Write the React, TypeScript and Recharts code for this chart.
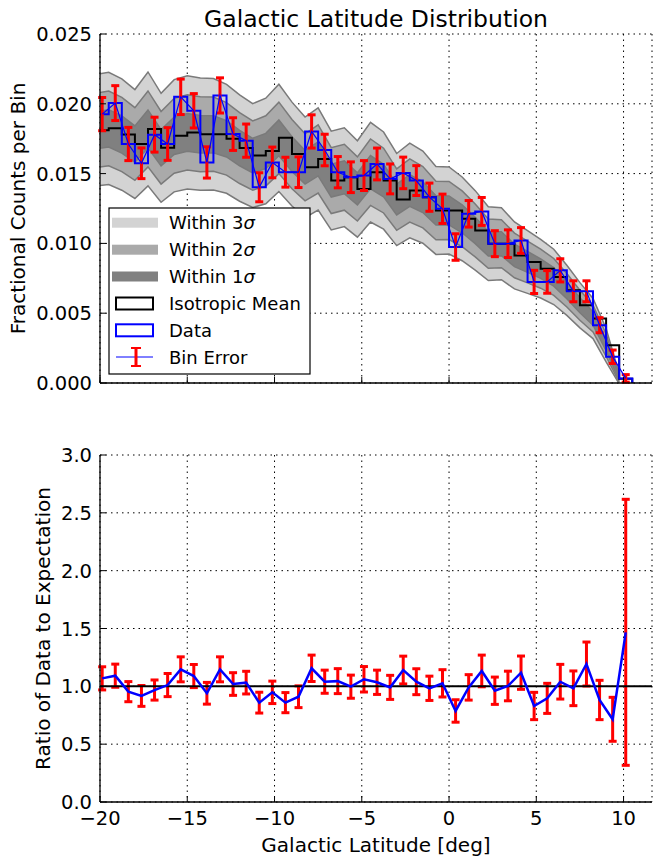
import React from 'react';
import { ComposedChart, Line, Area, XAxis, YAxis, CartesianGrid, ErrorBar, ReferenceLine } from 'recharts';

// bin centres in galactic latitude (deg), 0.75 deg wide bins
const binCenters = [
  -19.875, -19.125, -18.375, -17.625, -16.875, -16.125, -15.375, -14.625, -13.875, -13.125,
  -12.375, -11.625, -10.875, -10.125, -9.375, -8.625, -7.875, -7.125, -6.375, -5.625,
  -4.875, -4.125, -3.375, -2.625, -1.875, -1.125, -0.375, 0.375, 1.125, 1.875,
  2.625, 3.375, 4.125, 4.875, 5.625, 6.375, 7.125, 7.875, 8.625, 9.375, 10.125,
];
const BIN_WIDTH = 0.75;

const isoMean = [
  0.0181, 0.01824, 0.0178, 0.01712, 0.0182, 0.01685, 0.01771, 0.01795, 0.01782, 0.01782,
  0.01749, 0.01683, 0.01629, 0.01662, 0.01756, 0.0164, 0.01545, 0.01605, 0.0145, 0.01474,
  0.0139, 0.0151, 0.0145, 0.01314, 0.01379, 0.01331, 0.01236, 0.01236, 0.01176, 0.01093,
  0.00998, 0.00998, 0.00914, 0.00867, 0.00819, 0.0076, 0.00664, 0.00557, 0.00462, 0.00271, 0.0003,
];
const isoSigma = [
  0.00133, 0.00134, 0.00133, 0.0013, 0.00136, 0.0013, 0.00134, 0.00135, 0.00134, 0.00133,
  0.0013, 0.00127, 0.00124, 0.00126, 0.00128, 0.00124, 0.0012, 0.00122, 0.00118, 0.00118,
  0.00115, 0.00119, 0.00116, 0.0011, 0.00113, 0.0011, 0.00105, 0.00104, 0.001, 0.00095,
  0.00088, 0.00086, 0.0008, 0.00075, 0.0007, 0.00066, 0.0006, 0.00054, 0.00048, 0.0004, 0.00012,
];
const dataFrac = [
  0.01926, 0.02005, 0.01712, 0.01574, 0.01779, 0.01712, 0.0205, 0.0195, 0.0158, 0.0206,
  0.01783, 0.01736, 0.01402, 0.0158, 0.0151, 0.0151, 0.01802, 0.01669, 0.0151, 0.01474,
  0.01486, 0.01569, 0.01462, 0.01505, 0.0145, 0.01331, 0.01248, 0.00974, 0.01212, 0.01229,
  0.00998, 0.00998, 0.01021, 0.00724, 0.00724, 0.00807, 0.00657, 0.00657, 0.00414, 0.00188, 0.00033,
];
const dataErr = [
  0.00119, 0.00125, 0.00119, 0.0011, 0.00125, 0.00117, 0.00127, 0.00123, 0.00112, 0.00126,
  0.00117, 0.00119, 0.00104, 0.0011, 0.00107, 0.0011, 0.00119, 0.00113, 0.00112, 0.0011,
  0.00107, 0.00114, 0.00107, 0.00113, 0.00107, 0.00101, 0.00105, 0.00095, 0.00095, 0.001,
  0.00093, 0.00099, 0.00092, 0.00083, 0.00081, 0.00083, 0.00075, 0.00075, 0.00054, 0.00048, 0.00027,
];
const ratio = [
  1.069, 1.092, 0.954, 0.917, 0.968, 1.011, 1.147, 1.089, 0.94, 1.147,
  1.02, 1.032, 0.859, 0.948, 0.859, 0.91, 1.156, 1.04, 1.045, 0.997,
  1.061, 1.035, 0.991, 1.141, 1.04, 0.983, 1.026, 0.787, 0.991, 1.133,
  0.962, 1.003, 1.118, 0.83, 0.896, 1.04, 0.983, 1.193, 0.882, 0.715, 1.467,
];
const ratioErr = [
  0.1, 0.1, 0.087, 0.09, 0.087, 0.1, 0.108, 0.1, 0.094, 0.108,
  0.098, 0.098, 0.09, 0.097, 0.087, 0.094, 0.114, 0.1, 0.108, 0.1,
  0.11, 0.105, 0.104, 0.12, 0.112, 0.105, 0.118, 0.097, 0.11, 0.137,
  0.118, 0.128, 0.144, 0.118, 0.13, 0.15, 0.15, 0.19, 0.17, 0.19, 1.15,
];

const xTicks = [-20, -15, -10, -5, 0, 5, 10];
const fracTicks = [0, 0.005, 0.01, 0.015, 0.02, 0.025];
const ratioTicks = [0, 0.5, 1, 1.5, 2, 2.5, 3];
const X_DOMAIN: [number, number] = [-20, 11.63];

const edges = binCenters.map((c) => c - BIN_WIDTH / 2).concat(binCenters[binCenters.length - 1] + BIN_WIDTH / 2);

// bands are drawn at the left edge of every bin
const bandRows = binCenters.map((_, i) => {
  const m = isoMean[i];
  const s = isoSigma[i];
  return {
    x: edges[i],
    s3: [m - 3 * s, m + 3 * s],
    s2: [m - 2 * s, m + 2 * s],
    s1: [m - s, m + s],
  };
});

const stepRows = edges.map((e, i) => ({
  x: e,
  mean: i < isoMean.length ? isoMean[i] : 0,
  data: i < dataFrac.length ? dataFrac[i] : 0,
}));

const pointRows = binCenters.map((c, i) => ({
  x: c,
  data: dataFrac[i],
  err: dataErr[i],
  ratio: ratio[i],
  rerr: ratioErr[i],
}));

const FONT = 'DejaVu Sans';
const TICK_LEN = 6;
const GAP = 8;
const TICK_FONT = 19.5;

const fmtX = (v: number) => (v < 0 ? '\u2212' + Math.abs(v) : String(v));

const bottomTick = (label?: (v: number) => string) => (p: any) => {
  const ay = p.y - GAP;
  return (
    <g>
      <line x1={p.x} x2={p.x} y1={ay} y2={ay - TICK_LEN} stroke="#000" strokeWidth={1} />
      {label && (
        <text x={p.x} y={ay + 23} textAnchor="middle" fontSize={TICK_FONT} fontFamily={FONT} fill="#000">
          {label(p.payload.value)}
        </text>
      )}
    </g>
  );
};

const topTick = (p: any) => {
  const ay = p.y + GAP;
  return <line x1={p.x} x2={p.x} y1={ay} y2={ay + TICK_LEN} stroke="#000" strokeWidth={1} />;
};

const leftTick = (label: (v: number) => string) => (p: any) => {
  const ax = p.x + GAP;
  return (
    <g>
      <line x1={ax} x2={ax + TICK_LEN} y1={p.y} y2={p.y} stroke="#000" strokeWidth={1} />
      <text x={ax - 8} y={p.y + 7} textAnchor="end" fontSize={TICK_FONT} fontFamily={FONT} fill="#000">
        {label(p.payload.value)}
      </text>
    </g>
  );
};

const rightTick = (p: any) => {
  const ax = p.x - GAP;
  return <line x1={ax} x2={ax - TICK_LEN} y1={p.y} y2={p.y} stroke="#000" strokeWidth={1} />;
};

const frame = { stroke: '#000', strokeWidth: 1.3 };

function Axes({ yTicks, yDomain, yFmt, xLabels, bottomHeight }: any) {
  return (
    <>
      <XAxis
        xAxisId={0}
        type="number"
        dataKey="x"
        domain={X_DOMAIN}
        allowDataOverflow
        ticks={xTicks}
        height={bottomHeight}
        tickLine={false}
        tickSize={0}
        tickMargin={GAP}
        axisLine={frame}
        tick={bottomTick(xLabels ? fmtX : undefined)}
      />
      <XAxis
        xAxisId="top"
        orientation="top"
        type="number"
        dataKey="x"
        domain={X_DOMAIN}
        allowDataOverflow
        ticks={xTicks}
        height={0}
        tickLine={false}
        tickSize={0}
        tickMargin={GAP}
        axisLine={frame}
        tick={topTick}
      />
      <YAxis
        yAxisId={0}
        type="number"
        domain={yDomain}
        allowDataOverflow
        ticks={yTicks}
        width={100}
        tickLine={false}
        tickSize={0}
        tickMargin={GAP}
        axisLine={frame}
        tick={leftTick(yFmt)}
      />
      <YAxis
        yAxisId="right"
        orientation="right"
        type="number"
        domain={yDomain}
        allowDataOverflow
        ticks={yTicks}
        width={0}
        tickLine={false}
        tickSize={0}
        tickMargin={GAP}
        axisLine={frame}
        tick={rightTick}
      />
    </>
  );
}

const bandStroke = '#7a7a7a';

function DistributionPanel() {
  return (
    <ComposedChart width={653} height={400} margin={{ top: 34, right: 1, bottom: 0, left: 0 }}>
      {Axes({ yTicks: fracTicks, yDomain: [0, 0.025], yFmt: (v: number) => v.toFixed(3), xLabels: false, bottomHeight: 17 })}
      <Area data={bandRows} dataKey="s3" type="linear" fill="#d3d3d3" fillOpacity={1} stroke={bandStroke} strokeWidth={1.5} isAnimationActive={false} />
      <Area data={bandRows} dataKey="s2" type="linear" fill="#aaaaaa" fillOpacity={1} stroke={bandStroke} strokeWidth={1.5} isAnimationActive={false} />
      <Area data={bandRows} dataKey="s1" type="linear" fill="#808080" fillOpacity={1} stroke={bandStroke} strokeWidth={1.5} isAnimationActive={false} />
      <CartesianGrid stroke="#000" strokeDasharray="1.5 4" strokeWidth={1} />
      <Line data={stepRows} dataKey="mean" type="stepAfter" stroke="#000" strokeWidth={2} dot={false} isAnimationActive={false} />
      <Line data={stepRows} dataKey="data" type="stepAfter" stroke="#0000ff" strokeWidth={2} dot={false} isAnimationActive={false} />
      <Line data={pointRows} dataKey="data" type="linear" stroke="none" dot={false} isAnimationActive={false}>
        <ErrorBar dataKey="err" direction="y" width={4} stroke="#ff0000" strokeWidth={3} isAnimationActive={false} />
      </Line>
      <Line data={pointRows} dataKey="data" type="linear" stroke="#0000ff" strokeWidth={1.2} dot={false} isAnimationActive={false} />
    </ComposedChart>
  );
}

function RatioPanel() {
  return (
    <ComposedChart width={653} height={438} margin={{ top: 34, right: 1, bottom: 0, left: 0 }}>
      {Axes({ yTicks: ratioTicks, yDomain: [0, 3], yFmt: (v: number) => v.toFixed(1), xLabels: true, bottomHeight: 57 })}
      <CartesianGrid stroke="#000" strokeDasharray="1.5 4" strokeWidth={1} />
      <Line data={pointRows} dataKey="ratio" type="linear" stroke="none" dot={false} isAnimationActive={false}>
        <ErrorBar dataKey="rerr" direction="y" width={4} stroke="#ff0000" strokeWidth={3} isAnimationActive={false} />
      </Line>
      <ReferenceLine y={1} stroke="#000" strokeWidth={2} />
      <Line data={pointRows} dataKey="ratio" type="linear" stroke="#0000ff" strokeWidth={2.5} dot={false} isAnimationActive={false} />
    </ComposedChart>
  );
}

const legendRows = [
  { kind: 'fill', color: '#d3d3d3', label: 'Within 3' },
  { kind: 'fill', color: '#aaaaaa', label: 'Within 2' },
  { kind: 'fill', color: '#808080', label: 'Within 1' },
  { kind: 'box', color: '#000000', label: 'Isotropic Mean' },
  { kind: 'box', color: '#0000ff', label: 'Data' },
  { kind: 'err', color: '#0000ff', label: 'Bin Error' },
];

function Overlay() {
  const rowY = [222.7, 249.7, 276.5, 303.5, 330.3, 357];
  return (
    <svg width={653} height={859} style={{ position: 'absolute', left: 0, top: 0, pointerEvents: 'none' }} fontFamily={FONT}>
      <text x={376} y={27} textAnchor="middle" fontSize={23.5} fill="#000">Galactic Latitude Distribution</text>
      <text x={376} y={852} textAnchor="middle" fontSize={20} fill="#000">Galactic Latitude [deg]</text>
      <text transform="translate(25,208.5) rotate(-90)" textAnchor="middle" fontSize={20} fill="#000">Fractional Counts per Bin</text>
      <text transform="translate(49.5,628.5) rotate(-90)" textAnchor="middle" fontSize={20} fill="#000">Ratio of Data to Expectation</text>
      <rect x={109} y={208} width={201} height={166} fill="#fff" stroke="#000" strokeWidth={1.2} />
      {legendRows.map((r, i) => {
        const cy = rowY[i];
        return (
          <g key={r.label}>
            {r.kind === 'fill' && <rect x={112} y={cy - 5} width={46} height={10} fill={r.color} />}
            {r.kind === 'box' && <rect x={116} y={cy - 6} width={37} height={12} fill="none" stroke={r.color} strokeWidth={2} />}
            {r.kind === 'err' && (
              <g>
                <line x1={116} x2={153} y1={cy} y2={cy} stroke="#0000ff" strokeWidth={1} />
                <line x1={136} x2={136} y1={cy - 9} y2={cy + 9} stroke="#ff0000" strokeWidth={3} />
                <line x1={131} x2={141} y1={cy - 9} y2={cy - 9} stroke="#ff0000" strokeWidth={2} />
                <line x1={131} x2={141} y1={cy + 9} y2={cy + 9} stroke="#ff0000" strokeWidth={2} />
              </g>
            )}
            <text x={169} y={cy + 6.5} fontSize={18} fill="#000">
              {r.label}
              {r.kind === 'fill' && <tspan fontStyle="italic">{'\u03c3'}</tspan>}
            </text>
          </g>
        );
      })}
    </svg>
  );
}

export default function App() {
  return (
    <div style={{ position: 'absolute', left: 0, top: 0, width: 653, height: 859, background: '#fff', fontFamily: FONT }}>
      <div style={{ position: 'absolute', left: 0, top: 0 }}>
        <DistributionPanel />
      </div>
      <div style={{ position: 'absolute', left: 0, top: 421 }}>
        <RatioPanel />
      </div>
      <Overlay />
    </div>
  );
}
